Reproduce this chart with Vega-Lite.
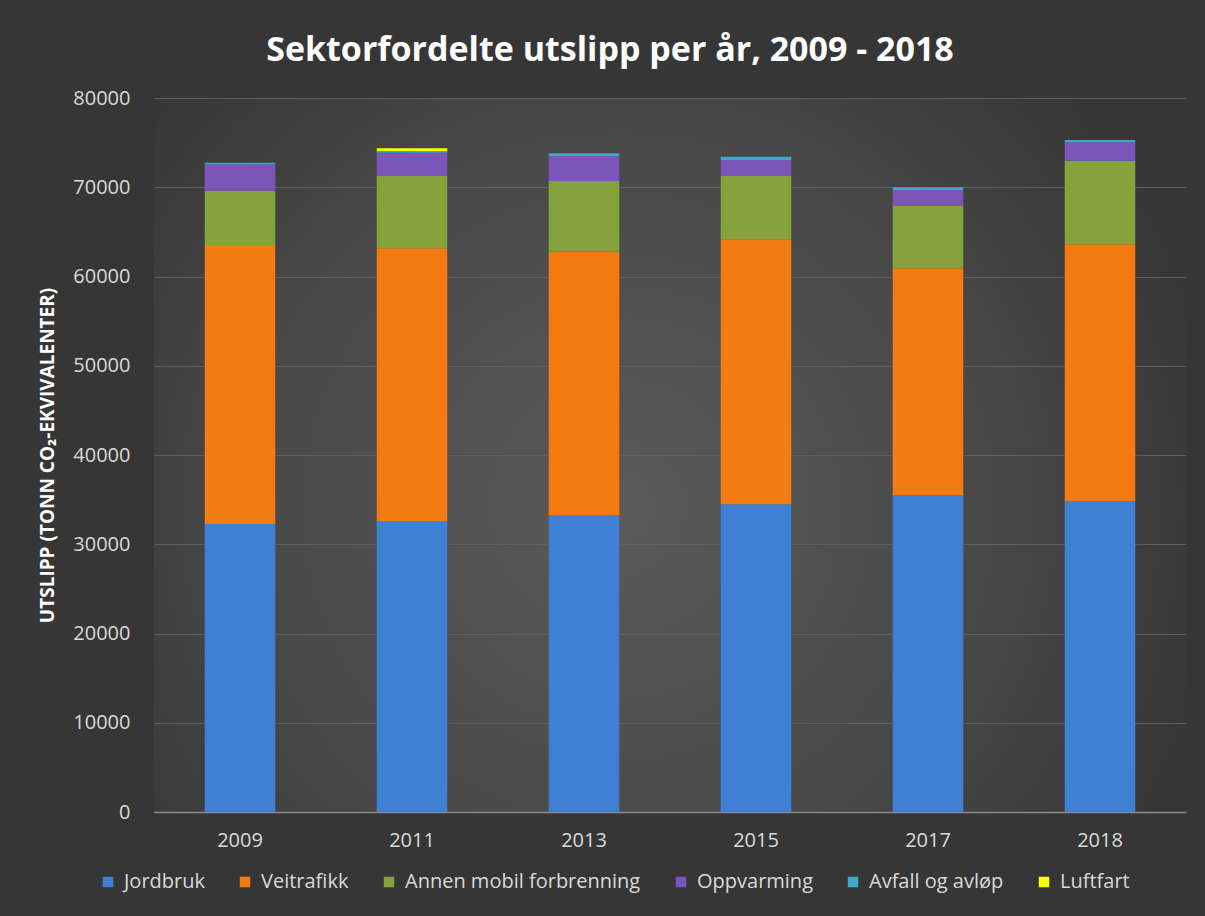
{
  "$schema": "https://vega.github.io/schema/vega-lite/v6.json",
  "width": 1032,
  "height": 714,
  "autosize": {"type": "none"},
  "padding": {"left": 154, "top": 98, "right": 19, "bottom": 104},
  "background": "#363636",
  "title": {
    "text": "Sektorfordelte utslipp per år, 2009 - 2018",
    "color": "#ffffff",
    "font": "Open Sans",
    "fontSize": 34,
    "fontWeight": "bold",
    "anchor": "middle",
    "dx": -60,
    "offset": 20
  },
  "config": {
    "view": {
      "stroke": null,
      "fill": {
        "gradient": "radial",
        "x1": 0.45, "y1": 0.55, "r1": 0,
        "x2": 0.45, "y2": 0.55, "r2": 0.6,
        "stops": [
          {"offset": 0, "color": "#5a5a5a"},
          {"offset": 0.6, "color": "#484848"},
          {"offset": 1, "color": "#363636"}
        ]
      }
    },
    "axis": {
      "labelFont": "Open Sans",
      "labelFontSize": 20,
      "labelColor": "#d9d9d9",
      "titleFont": "Open Sans"
    },
    "legend": {
      "labelFont": "Open Sans",
      "labelFontSize": 20,
      "labelColor": "#d9d9d9",
      "labelLimit": 0
    }
  },
  "data": {
    "values": [
      {"år": "2009", "sektor": "Jordbruk", "sektornr": 1, "utslipp": 32270},
      {"år": "2009", "sektor": "Veitrafikk", "sektornr": 2, "utslipp": 31260},
      {"år": "2009", "sektor": "Annen mobil forbrenning", "sektornr": 3, "utslipp": 6080},
      {"år": "2009", "sektor": "Oppvarming", "sektornr": 4, "utslipp": 2940},
      {"år": "2009", "sektor": "Avfall og avløp", "sektornr": 5, "utslipp": 200},
      {"år": "2011", "sektor": "Jordbruk", "sektornr": 1, "utslipp": 32600},
      {"år": "2011", "sektor": "Veitrafikk", "sektornr": 2, "utslipp": 30560},
      {"år": "2011", "sektor": "Annen mobil forbrenning", "sektornr": 3, "utslipp": 8100},
      {"år": "2011", "sektor": "Oppvarming", "sektornr": 4, "utslipp": 2600},
      {"år": "2011", "sektor": "Avfall og avløp", "sektornr": 5, "utslipp": 200},
      {"år": "2011", "sektor": "Luftfart", "sektornr": 6, "utslipp": 310},
      {"år": "2013", "sektor": "Jordbruk", "sektornr": 1, "utslipp": 33280},
      {"år": "2013", "sektor": "Veitrafikk", "sektornr": 2, "utslipp": 29480},
      {"år": "2013", "sektor": "Annen mobil forbrenning", "sektornr": 3, "utslipp": 7950},
      {"år": "2013", "sektor": "Oppvarming", "sektornr": 4, "utslipp": 2790},
      {"år": "2013", "sektor": "Avfall og avløp", "sektornr": 5, "utslipp": 300},
      {"år": "2015", "sektor": "Jordbruk", "sektornr": 1, "utslipp": 34480},
      {"år": "2015", "sektor": "Veitrafikk", "sektornr": 2, "utslipp": 29690},
      {"år": "2015", "sektor": "Annen mobil forbrenning", "sektornr": 3, "utslipp": 7090},
      {"år": "2015", "sektor": "Oppvarming", "sektornr": 4, "utslipp": 1790},
      {"år": "2015", "sektor": "Avfall og avløp", "sektornr": 5, "utslipp": 370},
      {"år": "2017", "sektor": "Jordbruk", "sektornr": 1, "utslipp": 35480},
      {"år": "2017", "sektor": "Veitrafikk", "sektornr": 2, "utslipp": 25440},
      {"år": "2017", "sektor": "Annen mobil forbrenning", "sektornr": 3, "utslipp": 6980},
      {"år": "2017", "sektor": "Oppvarming", "sektornr": 4, "utslipp": 1790},
      {"år": "2017", "sektor": "Avfall og avløp", "sektornr": 5, "utslipp": 310},
      {"år": "2018", "sektor": "Jordbruk", "sektornr": 1, "utslipp": 34810},
      {"år": "2018", "sektor": "Veitrafikk", "sektornr": 2, "utslipp": 28800},
      {"år": "2018", "sektor": "Annen mobil forbrenning", "sektornr": 3, "utslipp": 9370},
      {"år": "2018", "sektor": "Oppvarming", "sektornr": 4, "utslipp": 2060},
      {"år": "2018", "sektor": "Avfall og avløp", "sektornr": 5, "utslipp": 260}
    ]
  },
  "mark": {"type": "bar"},
  "encoding": {
    "x": {
      "field": "år",
      "type": "nominal",
      "scale": {"paddingInner": 0.59, "paddingOuter": 0.295},
      "axis": {
        "title": null,
        "labelAngle": 0,
        "ticks": false,
        "labelPadding": 18,
        "domainColor": "#8c8c8c",
        "domainWidth": 1.5,
        "grid": false
      }
    },
    "y": {
      "field": "utslipp",
      "type": "quantitative",
      "stack": "zero",
      "scale": {"domain": [0, 80000], "nice": false},
      "axis": {
        "title": "UTSLIPP (TONN CO₂-EKVIVALENTER)",
        "titleColor": "#ffffff",
        "titleFontSize": 19,
        "titleFontWeight": "bold",
        "titlePadding": 15,
        "values": [0, 10000, 20000, 30000, 40000, 50000, 60000, 70000, 80000],
        "format": "d",
        "domain": false,
        "ticks": false,
        "labelPadding": 24,
        "gridColor": "#606060",
        "gridWidth": 1
      }
    },
    "color": {
      "field": "sektor",
      "type": "nominal",
      "scale": {
        "domain": ["Jordbruk", "Veitrafikk", "Annen mobil forbrenning", "Oppvarming", "Avfall og avløp", "Luftfart"],
        "range": ["#3f80d2", "#f47a12", "#85a23d", "#7b56b8", "#3fa8c8", "#ffff00"]
      },
      "legend": {
        "title": null,
        "orient": "none",
        "direction": "horizontal",
        "columns": 6,
        "legendX": -56,
        "legendY": 774,
        "symbolType": "square",
        "symbolSize": 110,
        "symbolStrokeWidth": 0,
        "labelOffset": 6,
        "columnPadding": 30
      }
    },
    "order": {"field": "sektornr", "type": "quantitative", "sort": "ascending"}
  }
}
